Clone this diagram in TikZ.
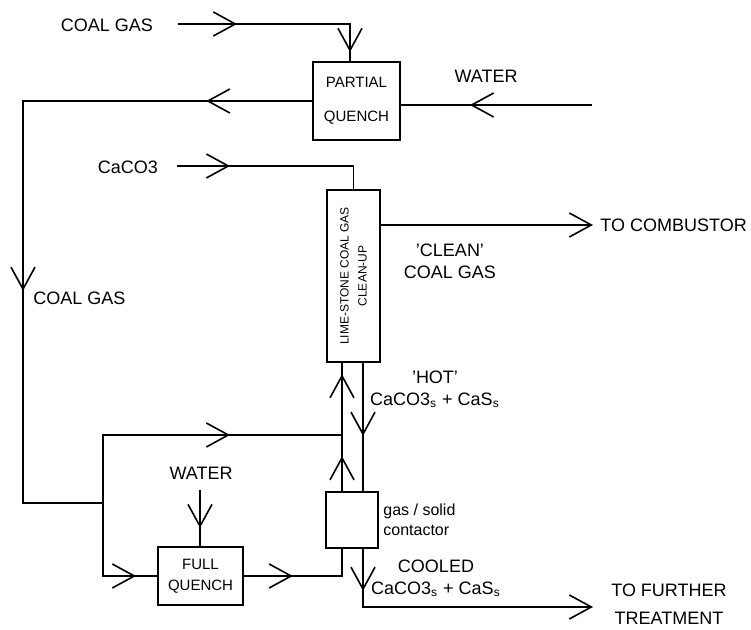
\documentclass[tikz,border=0pt]{standalone}
\usepackage{fontspec}
\setmainfont{Liberation Sans}
\usetikzlibrary{positioning,arrows.meta,decorations.markings}

\begin{document}
\begin{tikzpicture}[
    x=0.5pt, y=-0.5pt,
    >={Straight Barb[length=11pt,width=12pt]},
    line/.style={draw, line width=0.8pt},
    flow/.style={postaction={decorate, decoration={markings,
        mark=at position #1 with {\arrow{>}}}}},
    box/.style={
        draw,
        line width=0.8pt,
        align=center,
        inner sep=0pt,
        font=\fontsize{7.5}{9}\selectfont
    },
    lbl/.style={
        align=center,
        inner sep=0pt,
        font=\fontsize{9}{11}\selectfont
    },
    small/.style={
        align=left,
        inner sep=0pt,
        font=\fontsize{8}{10}\selectfont
    }
]
\useasboundingbox (0,0) rectangle (751,630);
% Units
\node[box, minimum width=43.5pt, minimum height=39pt] (pq) at (356.5,101) {PARTIAL\\[8pt]QUENCH};
\node[box, minimum width=26.5pt, minimum height=86pt] (ls) at (353.5,276) {};
\node[rotate=90, align=center, inner sep=0pt, font=\fontsize{6}{7}\selectfont] (lstxt) at (ls.center) {LIME-STONE COAL GAS\\[2pt]CLEAN-UP};
\node[box, minimum width=26pt, minimum height=28pt] (gs) at (352,520) {};
\node[box, minimum width=42.5pt, minimum height=29pt] (fq) at (200.5,576) {FULL\\[1.5pt]QUENCH};
% Labels
\node[lbl] (coalin) at (107,25) {COAL GAS};
\node[lbl] (waterin) at (486,76) {WATER};
\node[lbl] (caco) at (128,167) {CaCO3};
\node[lbl, anchor=west] (coalgas) at (33,298) {COAL GAS};
\node[lbl, anchor=west] (comb) at (600,225) {TO COMBUSTOR};
\node[lbl] (clean) at (450,261) {'CLEAN'\\COAL GAS};
\node[lbl] (hot) at (435,389) {'HOT'\\CaCO3\textsubscript{s} + CaS\textsubscript{s}};
\node[small, anchor=west] (gstxt) at (383,520) {gas / solid\\contactor};
\node[lbl] (cooled) at (436,578) {COOLED\\CaCO3\textsubscript{s} + CaS\textsubscript{s}};
\node[lbl, font=\fontsize{9}{14}\selectfont] (treat) at (669,604) {TO FURTHER\\TREATMENT};
\node[lbl] (water2) at (201,473) {WATER};
% Free ends and junctions
\coordinate (cgs) at (178,24);
\coordinate (ws) at (592,105);
\coordinate (cas) at (177,166);
\coordinate (split) at (23,503);
\coordinate (byp) at (103,503);
\coordinate (jn) at (342,435);
\coordinate (dx) at (363,435);
\coordinate (cleanend) at (593,225);
\coordinate (w2) at (200,490);
\coordinate (treatend) at (593,607);
% Partial quench
\draw[line, flow=29.5pt, flow=100pt] (cgs) -| ([xshift=-3.25pt]pq.north);
\draw[line, flow=61pt] (ws) -- (ws -| pq.east);
\draw[line, flow=53pt, flow=239.5pt] (pq.west) -| (split) -- (byp);
% Lime-stone clean-up
\draw[line, flow=26.5pt] (cas) -| (ls.north);
\draw[line, ->] (cleanend -| ls.east) -- (cleanend);
\draw[line, flow=97.5pt] (byp) |- (jn);
\draw[line, flow=17.5pt, flow=58.5pt] (jn |- gs.north) -- (jn |- ls.south);
\draw[line, flow=36.5pt] (dx |- ls.south) -- (dx |- gs.north);
% Full quench
\draw[line, flow=53pt] (byp) |- (fq.west);
\draw[line, flow=19pt] (w2) -- (w2 |- fq.north);
\draw[line, flow=24.5pt] (fq.east) -| (jn |- gs.south);
% Cooled solids
\draw[line, flow=21pt, ->] (dx |- gs.south) |- (treatend);
\end{tikzpicture}
\end{document}
